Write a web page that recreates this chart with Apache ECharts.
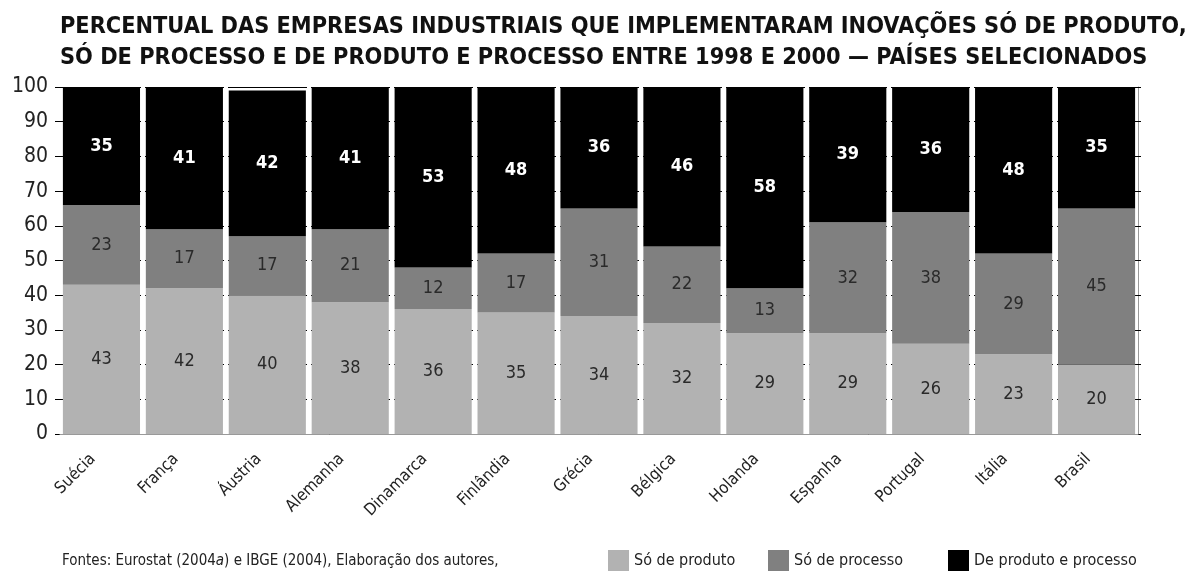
<!DOCTYPE html>
<html>
<head>
<meta charset="utf-8">
<script src="https://cdn.jsdelivr.net/npm/echarts@6/dist/echarts.min.js"></script>
<style>
  html, body { margin: 0; padding: 0; background: #fff; }
  #chart { width: 1192px; height: 571px; }
</style>
</head>
<body>
<div id="chart"></div>
<script>
// Countries on the category axis
const countries = ['Suécia', 'França', 'Áustria', 'Alemanha', 'Dinamarca', 'Finlândia', 'Grécia',
                   'Bélgica', 'Holanda', 'Espanha', 'Portugal', 'Itália', 'Brasil'];
// Share of industrial firms (%) by type of innovation, 1998–2000
const soProduto        = [43, 42, 40, 38, 36, 35, 34, 32, 29, 29, 26, 23, 20];
const soProcesso       = [23, 17, 17, 21, 12, 17, 31, 22, 13, 32, 38, 29, 45];
const produtoEProcesso = [35, 41, 42, 41, 53, 48, 36, 46, 58, 39, 36, 48, 35];
const seriesNames = ['Só de produto', 'Só de processo', 'De produto e processo'];
// Value axis scale
const yMin = 0, yMax = 100, yStep = 10;

const FONT = '"DejaVu Sans Condensed", "Liberation Sans Narrow", "Open Sans", sans-serif';
const colors = ['#b2b2b2', '#808080', '#000000'];
const labelColors = ['#2a2a2a', '#2a2a2a', '#ffffff'];

const chart = echarts.init(document.getElementById('chart'), null, { renderer: 'canvas' });

const makeSeries = (name, data, i) => ({
  name,
  type: 'bar',
  stack: 'total',
  data,
  barCategoryGap: '7%',
  itemStyle: { color: colors[i] },
  label: {
    show: true,
    position: 'inside',
    fontFamily: FONT,
    fontSize: 18,
    fontWeight: i === 2 ? 'bold' : 'normal',
    color: labelColors[i]
  },
  emphasis: { disabled: true },
  z: 2
});

// One legend block per series so each entry sits at its own x position
const legendAt = (name, left) => ({
  data: [name],
  left,
  top: 545,
  icon: 'rect',
  itemWidth: 21,
  itemHeight: 21,
  itemGap: 0,
  selectedMode: false,
  textStyle: { fontFamily: FONT, fontSize: 16, color: '#222', padding: [0, 0, 0, 0] }
});

chart.setOption({
  animation: false,
  backgroundColor: '#ffffff',
  title: [
    {
      text: 'PERCENTUAL DAS EMPRESAS INDUSTRIAIS QUE IMPLEMENTARAM INOVAÇÕES SÓ DE PRODUTO,\nSÓ DE PROCESSO E DE PRODUTO E PROCESSO ENTRE 1998 E 2000 — PAÍSES SELECIONADOS',
      left: 55,
      top: 6,
      textStyle: { fontFamily: FONT, fontSize: 23.3, fontWeight: 'bold', color: '#111', lineHeight: 31 }
    },
    {
      text: 'Fontes: Eurostat (2004{i|a}) e IBGE (2004), Elaboração dos autores,',
      left: 57,
      top: 549,
      textStyle: {
        fontFamily: FONT, fontSize: 15, fontWeight: 'normal', color: '#222',
        rich: { i: { fontFamily: FONT, fontSize: 15, fontStyle: 'italic', fontWeight: 'normal', color: '#222' } }
      }
    }
  ],
  legend: [
    legendAt(seriesNames[0], 603),
    legendAt(seriesNames[1], 763),
    legendAt(seriesNames[2], 943)
  ],
  grid: { left: 60, right: 54, top: 87, bottom: 137 },
  xAxis: {
    type: 'category',
    data: countries,
    boundaryGap: true,
    z: 1,
    axisLine: { show: true, lineStyle: { color: '#999', width: 1 } },
    axisTick: { show: false },
    splitLine: { show: true, showMinLine: false, showMaxLine: false, lineStyle: { color: '#ffffff', width: 4 } },
    axisLabel: {
      rotate: 45, interval: 0, margin: 14, padding: [0, 12, 0, 0],
      fontFamily: FONT, fontSize: 16.5, color: '#222'
    }
  },
  yAxis: [
    {
      type: 'value',
      min: yMin,
      max: yMax,
      interval: yStep,
      z: 0,
      axisLine: { show: false },
      axisTick: { show: true, length: 5, lineStyle: { color: '#000' } },
      splitLine: { show: true, lineStyle: { color: '#000', width: 1 } },
      axisLabel: { margin: 12, fontFamily: FONT, fontSize: 21, color: '#222' }
    },
    {
      type: 'value',
      position: 'right',
      min: yMin,
      max: yMax,
      interval: yStep,
      axisLine: { show: true, lineStyle: { color: '#999', width: 1 } },
      axisTick: { show: true, length: 3, lineStyle: { color: '#000' } },
      splitLine: { show: false },
      axisLabel: { show: false }
    }
  ],
  series: [
    makeSeries(seriesNames[0], soProduto, 0),
    makeSeries(seriesNames[1], soProcesso, 1),
    makeSeries(seriesNames[2], produtoEProcesso, 2)
  ]
});
</script>
</body>
</html>
